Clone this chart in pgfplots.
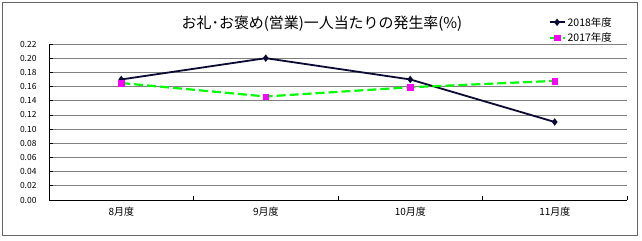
\documentclass[border=0pt]{standalone}
\usepackage{pgfplots}
\pgfplotsset{compat=1.18}
\usepackage{fontspec}
\setmainfont{Noto Sans CJK JP}
\definecolor{navyline}{RGB}{10,10,50}
\definecolor{lgreen}{RGB}{0,255,0}
\definecolor{mag}{RGB}{255,0,255}
\begin{document}
\begin{tikzpicture}[x=1bp,y=1bp]
\useasboundingbox (0,0) rectangle (642,240);
\fill[white] (0,0) rectangle (642,240);
\draw[gray!80!black, line width=1bp] (2.5,4.5) rectangle (637.5,237.5);
\node[font=\fontsize{15}{17}\selectfont] at (322,216) {お礼･お褒め(営業)一人当たりの発生率(\%)};
\begin{axis}[
  at={(49bp,40bp)}, anchor=south west,
  scale only axis, width=578bp, height=156bp,
  xmin=0, xmax=4, ymin=0, ymax=0.22,
  axis x line*=bottom, axis y line*=left,
  axis line style={black, line width=1bp},
  xtick={0.5,1.5,2.5,3.5},
  xticklabels={8月度,9月度,10月度,11月度},
  minor xtick={0,1,2,3,4},
  ytick={0,0.02,0.04,0.06,0.08,0.10,0.12,0.14,0.16,0.18,0.20,0.22},
  yticklabel style={font=\fontsize{8.5}{10}\selectfont, xshift=-9bp,
    /pgf/number format/fixed, /pgf/number format/fixed zerofill,
    /pgf/number format/precision=2, /pgf/number format/assume math mode=true},
  xticklabel style={font=\fontsize{10}{12}\selectfont, yshift=-4bp},
  tick align=inside,
  major x tick style={draw=none},
  minor x tick style={black, line width=1bp},
  minor tick length=4bp,
  major tick length=4bp,
  ytick style={black, line width=0.8bp},
  ymajorgrids,
  major grid style={gray, line width=0.8bp},
  legend style={draw=none, fill=none, at={(1,1)}, anchor=south east, xshift=-12bp, yshift=-2bp,
    font=\fontsize{10.5}{12}\selectfont, row sep=1bp, inner sep=1bp},
  legend cell align=left,
  legend image code/.code={\draw[mark repeat=2,mark phase=2,#1] plot coordinates {(0bp,0bp) (7.5bp,0bp) (15bp,0bp)};},
]
\addplot[navyline, line width=1.8bp, mark=diamond*, mark size=2.3bp, mark options={solid}] coordinates {
  (0.5,0.170) (1.5,0.200) (2.5,0.170) (3.5,0.110)};
\addlegendentry{2018年度}
\addplot[lgreen, line width=2.2bp, dash pattern=on 9bp off 4bp, mark=square*, mark size=2.8bp, mark options={solid, fill=mag, draw=mag, line width=0.2bp}] coordinates {
  (0.5,0.165) (1.5,0.146) (2.5,0.159) (3.5,0.168)};
\addlegendentry{2017年度}
\end{axis}
\end{tikzpicture}
\end{document}
